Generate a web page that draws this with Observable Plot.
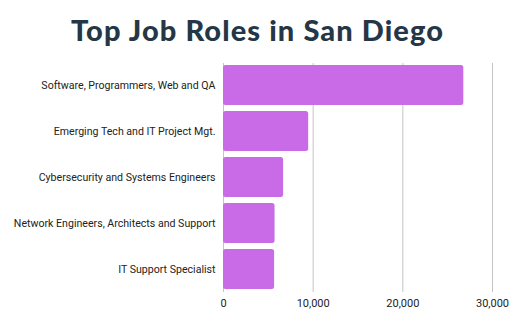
<!DOCTYPE html>
<html>
<head>
<meta charset="utf-8">
<script src="https://cdn.jsdelivr.net/npm/d3@7"></script>
<script src="https://cdn.jsdelivr.net/npm/@observablehq/plot@0.6"></script>
<style>
  html, body { margin: 0; padding: 0; background: #ffffff; }
  #wrap { width: 515px; height: 325px; position: relative; overflow: hidden; }
  #title { position: absolute; left: 0; top: 12px; width: 515px; text-align: center;
    font-family: Lato, "Open Sans", sans-serif; font-weight: 900; font-size: 29px;
    color: #253746; line-height: 36px; letter-spacing: 1.1px; }
  #chart { position: absolute; left: 0; top: 55px; }
</style>
</head>
<body>
<div id="wrap">
  <div id="title">Top Job Roles in San Diego</div>
  <div id="chart"></div>
</div>
<script>
const roles = [
  "Software, Programmers, Web and QA",
  "Emerging Tech and IT Project Mgt.",
  "Cybersecurity and Systems Engineers",
  "Network Engineers, Architects and Support",
  "IT Support Specialist"
];
const jobs = [26800, 9500, 6700, 5750, 5700];
const xTicks = [0, 10000, 20000, 30000];

const data = roles.map((r, i) => ({role: r, value: jobs[i]}));

const chart = Plot.plot({
  width: 515,
  height: 270,
  marginLeft: 223,
  marginRight: 23,
  marginTop: 8,
  marginBottom: 33,
  style: {fontFamily: "Roboto, sans-serif", fontSize: "10.6px", color: "#222", background: "#fff"},
  x: {domain: [0, 30000], ticks: xTicks, tickFormat: d3.format(","), label: null, tickSize: 0, tickPadding: 7},
  y: {domain: roles, paddingInner: 0.125, paddingOuter: 0, label: null, tickSize: 0, tickPadding: 8},
  marks: [
    Plot.ruleX(xTicks, {stroke: "#c4c4c4", strokeWidth: 1, strokeOpacity: 1}),
    Plot.barX(data, {x: "value", y: "role", fill: "#c96be6", rx: 2.5}),
    Plot.axisX({ticks: xTicks, tickFormat: d3.format(","), tickSize: 0, tickPadding: 7, label: null, fontSize: 11}),
    Plot.axisY({tickSize: 0, tickPadding: 8, label: null})
  ]
});
document.getElementById("chart").appendChild(chart);
</script>
</body>
</html>
